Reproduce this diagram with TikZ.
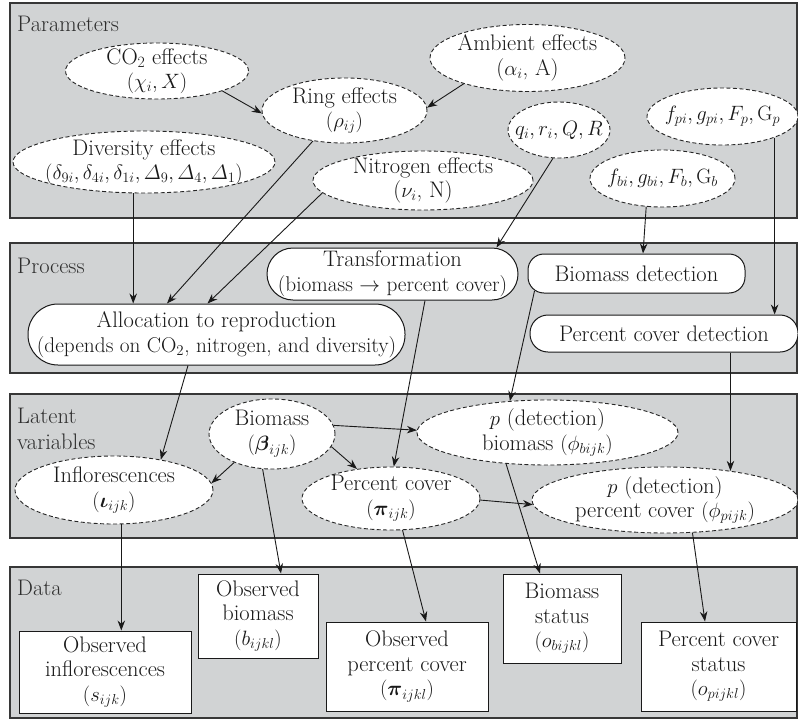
\documentclass[tikz,border=0pt]{standalone}
\usepackage{amsmath}
\usetikzlibrary{shapes.geometric,arrows.meta}
\definecolor{panelgray}{RGB}{209,211,212}
\definecolor{edgegray}{RGB}{55,55,55}
\newcommand\msz{\fontsize{22.5}{24.5}\selectfont}
\newcommand\ssz{\fontsize{21.3}{24.5}\selectfont}
\newcommand\tsz{\fontsize{20.5}{24.5}\selectfont}
\begin{document}
\begin{tikzpicture}[x=1pt,y=-1pt,
  panel/.style={draw=edgegray, line width=1.3pt, fill=panelgray},
  ell/.style={ellipse, draw=black!85, dash pattern=on 4pt off 2.5pt, line width=0.9pt, fill=white, inner sep=0pt},
  txt/.style={align=center, inner sep=0pt, font=\msz, text=black!90},
  rbox/.style={rectangle, rounded corners=#1, draw=black!90, line width=1pt, fill=white, align=center, inner sep=1pt, font=\msz, text=black!90},
  rbox/.default=18pt,
  sbox/.style={rectangle, draw=black!90, line width=1pt, fill=white, align=center, inner sep=1pt, font=\msz, text=black!90},
  arr/.style={-{Stealth[length=10pt,width=7.5pt]}, line width=0.9pt, black!90},
  lab/.style={anchor=base west, inner sep=0pt, font=\msz, text=black!82}
]
\useasboundingbox (0,0) rectangle (798,720);
% panels
\draw[panel] (10,3) rectangle (797,218);
\draw[panel] (10,243) rectangle (797,373);
\draw[panel] (10,394) rectangle (797,538);
\draw[panel] (10,567) rectangle (797,718);
\node[lab] (parlab) at (17,31) {Parameters};
\node[lab] (proclab) at (17,273) {Process};
\node[lab] (latlab) at (17,423) {Latent};
\node[lab] (varlab) at (17,449) {variables};
\node[lab] (datlab) at (17,595) {Data};

% parameters
\node[ell, minimum width=183pt, minimum height=56pt] (co2) at (157,71) {};
\node[txt] (co2t) at (co2) {CO\textsubscript{2} effects\\$(\chi_i, X)$};
\node[ell, minimum width=165pt, minimum height=65pt] (ring) at (344.5,110.5) {};
\node[txt] (ringt) at (ring) {Ring effects\\$(\rho_{ij})$};
\node[ell, minimum width=195pt, minimum height=67pt] (amb) at (527.5,58) {};
\node[txt] (ambt) at (amb) {Ambient effects\\($\alpha_i$, A)};
\node[ell, minimum width=262pt, minimum height=62pt] (div) at (144,162) {};
\node[txt] (divt) at (div) {Diversity effects\\{\tsz$(\delta_{9i}{,}\,\delta_{4i}{,}\,\delta_{1i}{,}\,\varDelta_9{,}\,\varDelta_4{,}\,\varDelta_1)$}};
\node[ell, minimum width=220pt, minimum height=59pt] (nit) at (423,180.5) {};
\node[txt] (nitt) at (nit) {Nitrogen effects\\($\nu_i$, N)};
\node[ell, minimum width=102pt, minimum height=56pt] (q) at (559,130) {};
\node[txt, font=\tsz] (qt) at (q) {$q_i, r_i, Q, R$};
\node[ell, minimum width=151pt, minimum height=57pt] (fp) at (722.5,116.5) {};
\node[txt, font=\tsz] (fpt) at (fp) {$f_{pi}, g_{pi}, F_p, \mathrm{G}_p$};
\node[ell, minimum width=145pt, minimum height=57pt] (fb) at (662.5,178.5) {};
\node[txt, font=\tsz] (fbt) at (fb) {$f_{bi}, g_{bi}, F_b, \mathrm{G}_b$};

% process
\node[rbox=26pt, minimum width=251pt, minimum height=52pt] (trans) at (392.5,274) {Transformation\\{\ssz(biomass $\rightarrow$ percent cover)}};
\node[rbox=30pt, minimum width=377pt, minimum height=61pt] (alloc) at (216.5,334.5) {Allocation to reproduction\\{\ssz(depends on CO\textsubscript{2}, nitrogen, and diversity)}};
\node[rbox=16pt, minimum width=217pt, minimum height=39pt] (bdet) at (636.5,273.5) {Biomass detection};
\node[rbox=18pt, minimum width=268pt, minimum height=37pt] (pcdet) at (664,333.5) {Percent cover detection};

% latent
\node[ell, minimum width=126pt, minimum height=70pt] (bio) at (272,434) {};
\node[txt] (biot) at (bio) {Biomass\\$(\boldsymbol{\beta}_{ijk})$};
\node[ell, minimum width=261pt, minimum height=65pt] (pbio) at (547.5,432.5) {};
\node[txt] (pbiot) at (pbio) {$p$ (detection)\\biomass $(\phi_{bijk})$};
\node[ell, minimum width=198pt, minimum height=68pt] (infl) at (114,490) {};
\node[txt] (inflt) at (infl) {Inflorescences\\$(\boldsymbol{\iota}_{ijk})$};
\node[ell, minimum width=178pt, minimum height=63pt] (pc) at (391,498.5) {};
\node[txt] (pct) at (pc) {Percent cover\\$(\boldsymbol{\pi}_{ijk})$};
\node[ell, minimum width=266pt, minimum height=66pt] (ppc) at (665,500) {};
\node[txt] (ppct) at (ppc) {$p$ (detection)\\percent cover $(\phi_{pijk})$};

% data
\node[sbox, minimum width=172pt, minimum height=82pt] (oinf) at (105,672) {Observed\\inflorescences\\$(s_{ijk})$};
\node[sbox, minimum width=120pt, minimum height=84pt] (obio) at (258,616) {Observed\\biomass\\$(b_{ijkl})$};
\node[sbox, minimum width=162pt, minimum height=89pt] (opc) at (407,666.5) {Observed\\percent cover\\$(\boldsymbol{\pi}_{ijkl})$};
\node[sbox, minimum width=118pt, minimum height=89pt] (bstat) at (562,618.5) {Biomass\\status\\$(o_{bijkl})$};
\node[sbox, minimum width=155pt, minimum height=89pt] (pcstat) at (718.5,666.5) {Percent cover\\status\\$(o_{pijkl})$};

% connectors
\draw[arr] (co2.-17) -- (ring.182);
\draw[arr] (amb.202) -- (ring.2);
\draw[arr] (div.-109) -- (div.-109 |- alloc.north);
\draw[arr] (ring.-136) -- ([xshift=-49.5pt]alloc.north);
\draw[arr] (nit.187) -- ([xshift=-9pt]alloc.north);
\draw[arr] (q.-102) -- ([xshift=104pt]trans.north);
\draw[arr] (fb.-120) -- ([xshift=6.5pt]bdet.north);
\draw[arr] (fp.-22) -- (fp.-22 |- pcdet.north);
\draw[arr] ([xshift=32.5pt]trans.south) -- (pc.85);
\draw[arr] ([xshift=-102pt,yshift=2.5pt]bdet.south) -- (pbio.140);
\draw[arr] (ppc.24 |- pcdet.south) -- (ppc.24);
\draw[arr] ([xshift=-28.5pt]alloc.south) -- (infl.33);
\draw[arr] (bio.8) -- (pbio.179);
\draw[arr] (bio.-12) -- (pc.139);
\draw[arr] (bio.-143) -- (infl.4);
\draw[arr] (bio.-105) -- ([xshift=23pt]obio.north);
\draw[arr] (pc.-1) -- (ppc.182);
\draw[arr] (pbio.-143) -- ([xshift=-22pt]bstat.north);
\draw[arr] (pc.-70) -- ([xshift=19pt]opc.north);
\draw[arr] (ppc.-50) -- ([xshift=-13.5pt]pcstat.north);
\draw[arr] (infl.-78) -- (infl.-78 |- oinf.north);
\end{tikzpicture}
\end{document}
